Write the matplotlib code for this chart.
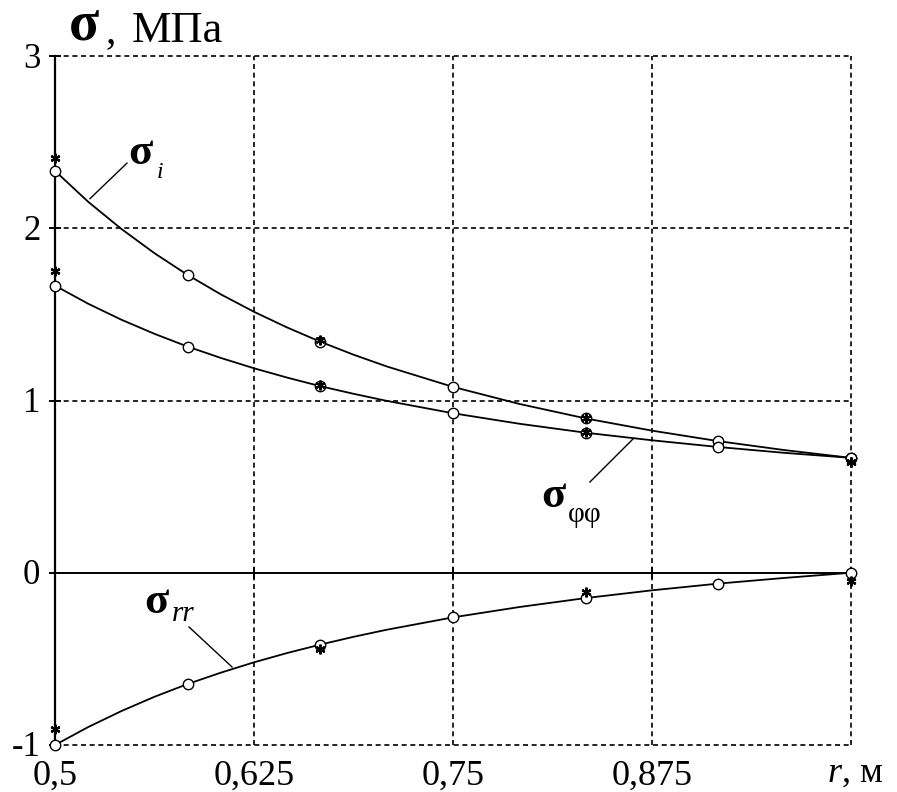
import matplotlib
matplotlib.use('Agg')
import matplotlib.pyplot as plt
from matplotlib.transforms import ScaledTranslation

plt.rcParams['font.family'] = ['Liberation Serif', 'DejaVu Serif']
plt.rcParams['mathtext.fontset'] = 'custom'
plt.rcParams['mathtext.it'] = 'Liberation Serif:italic'
plt.rcParams['mathtext.rm'] = 'Liberation Serif'

# ---- data ----
r_line = [0.5, 0.5208, 0.5417, 0.5625, 0.5833, 0.6042, 0.625, 0.6458, 0.6667, 0.6875, 0.7083,
          0.75, 0.7917, 0.8333, 0.875, 0.9167, 0.9583, 1.0]
s_i_line = [2.333, 2.154, 1.996, 1.855, 1.729, 1.616, 1.515, 1.424, 1.341, 1.266, 1.198,
            1.079, 0.980, 0.896, 0.825, 0.764, 0.712, 0.667]
s_ff_line = [1.667, 1.562, 1.469, 1.387, 1.313, 1.247, 1.187, 1.133, 1.083, 1.039, 0.998,
             0.926, 0.865, 0.813, 0.769, 0.730, 0.696, 0.667]
s_rr_line = [-1.0, -0.896, -0.803, -0.720, -0.646, -0.580, -0.520, -0.466, -0.417, -0.372, -0.331,
             -0.259, -0.199, -0.147, -0.102, -0.063, -0.030, 0.0]

r_circ = [0.5, 0.5833, 0.6667, 0.75, 0.8333, 0.9167, 1.0]
s_i_circ = [2.333, 1.729, 1.341, 1.079, 0.896, 0.764, 0.667]
s_ff_circ = [1.667, 1.313, 1.083, 0.926, 0.813, 0.730, 0.667]
s_rr_circ = [-1.0, -0.646, -0.417, -0.259, -0.147, -0.063, 0.0]

r_star = [0.5, 0.6667, 0.8333, 1.0]
s_i_star = [2.41, 1.35, 0.90, 0.645]
s_ff_star = [1.75, 1.09, 0.82, 0.645]
s_rr_star = [-0.91, -0.445, -0.11, -0.05]

x_ticks = [0.5, 0.625, 0.75, 0.875, 1.0]
x_labels = ['0,5', '0,625', '0,75', '0,875', '']
x_last_label = r'$r$, м'
y_ticks = [-1, 0, 1, 2, 3]
y_labels = ['-1', '0', '1', '2', '3']

fig = plt.figure(figsize=(8.97, 7.92), dpi=100)
ax = fig.add_axes([55/897, 1-745/792, (851-55)/897, (745-56)/792])
ax.set_xlim(0.5, 1.0)
ax.set_ylim(-1, 3)

ax.set_xticks(x_ticks)
ax.set_xticklabels(x_labels)
ax.set_yticks(y_ticks)
ax.set_yticklabels(y_labels)

# dashed grid
dash = (0, (3.0, 2.2))
for xv in x_ticks[1:]:
    ax.axvline(xv, color='black', linewidth=1.2, linestyle=dash, clip_on=False, zorder=1)
for yv in y_ticks:
    if yv != 0:
        ax.axhline(yv, color='black', linewidth=1.2, linestyle=dash, clip_on=False, zorder=1)

ax.spines['right'].set_visible(False)
ax.spines['bottom'].set_visible(False)
ax.spines['top'].set_position(('data', 0))
ax.spines['top'].set_linewidth(1.4)
ax.spines['left'].set_linewidth(1.6)

ax.tick_params(axis='x', top=True, bottom=False, labeltop=False, labelbottom=True,
               direction='inout', length=9, width=1.4, labelsize=26, pad=6)
ax.tick_params(axis='y', left=True, right=False, direction='inout', length=9, width=1.4,
               labelsize=25, pad=6)
shift = ScaledTranslation(0, -3/100, fig.dpi_scale_trans)
for lab in ax.get_yticklabels():
    lab.set_verticalalignment('center')
    lab.set_transform(lab.get_transform() + shift)

ax.annotate(x_last_label, xy=(1.0, -1.0), xytext=(4, -37), textcoords='offset pixels',
            fontsize=26, ha='center', va='baseline', annotation_clip=False)

lw = 1.3
for yl in (s_i_line, s_ff_line, s_rr_line):
    ax.plot(r_line, yl, color='black', linewidth=lw, zorder=3, clip_on=False)
for yc in (s_i_circ, s_ff_circ, s_rr_circ):
    ax.plot(r_circ, yc, linestyle='none', marker='o', markersize=7.5, markerfacecolor='white',
            markeredgecolor='black', markeredgewidth=1.0, zorder=4, clip_on=False)
for ys in (s_i_star, s_ff_star, s_rr_star):
    ax.plot(r_star, ys, linestyle='none', marker=(6, 2, 0), markersize=7, color='black',
            markeredgewidth=1.6, zorder=5, clip_on=False)

# curve labels with leader lines
ax.plot([0.5452, 0.522], [2.378, 2.172], color='black', linewidth=1.0)
ax.text(0.5534, 2.437, 'σ', fontsize=32, fontweight='bold', ha='center', va='center')
ax.text(0.566, 2.325, 'i', fontsize=17, style='italic', ha='center', va='center')

ax.plot([0.836, 0.863], [0.527, 0.776], color='black', linewidth=1.0)
ax.text(0.8128, 0.445, 'σ', fontsize=32, fontweight='bold', ha='center', va='center')
ax.text(0.833, 0.335, 'φφ', fontsize=21, ha='center', va='center')

ax.plot([0.5842, 0.6112], [-0.315, -0.547], color='black', linewidth=1.0)
ax.text(0.5634, -0.170, 'σ', fontsize=32, fontweight='bold', ha='center', va='center')
ax.text(0.5804, -0.24, 'rr', fontsize=21, style='italic', ha='center', va='center')

# axis title
fig.text(84/897, 1-40/792, 'σ', fontsize=40, fontweight='bold', ha='center', va='baseline')
fig.text(105/897, 1-42/792, ',', fontsize=30, ha='left', va='baseline')
fig.text(132/897, 1-42/792, 'МПа', fontsize=32, ha='left', va='baseline')

fig.savefig('out.png', dpi=100)
